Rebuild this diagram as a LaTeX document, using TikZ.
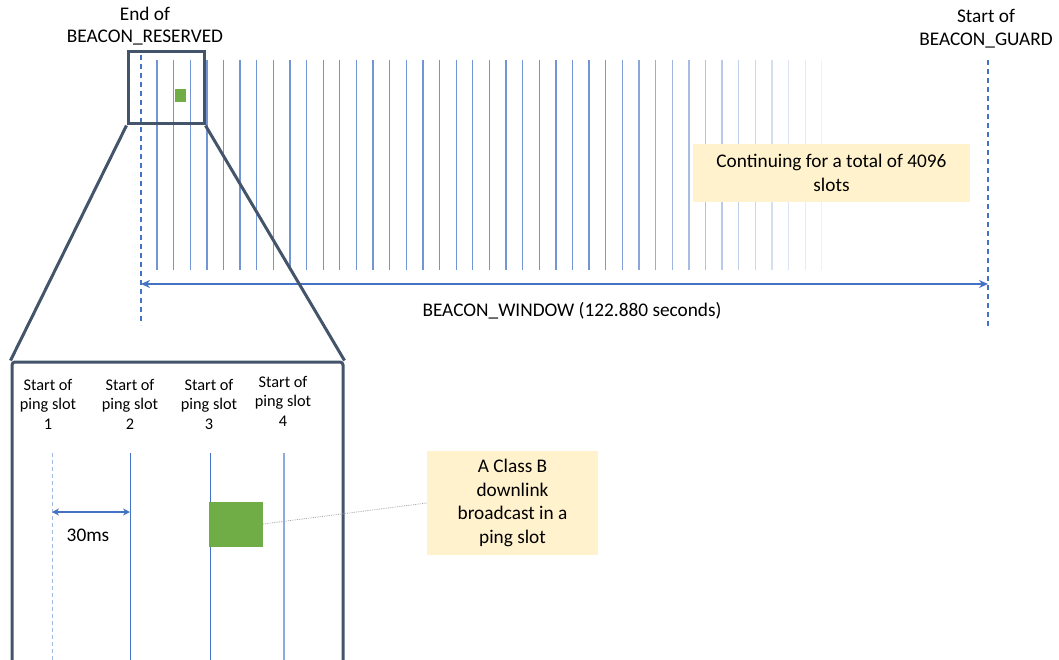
\documentclass[tikz,border=0pt]{standalone}
\usepackage{fontspec}
\setmainfont{Carlito}
\usepackage{tikz}
\usetikzlibrary{arrows.meta,positioning}
\definecolor{slotblue}{HTML}{4472C4}
\definecolor{frame}{HTML}{44546A}
\definecolor{pktgreen}{HTML}{70AD47}
\definecolor{noteyellow}{HTML}{FFF2CC}

\begin{document}
\begin{tikzpicture}[x=1pt, y=-1pt,
    txt/.style={align=center, inner sep=0pt, font=\fontsize{19.3}{22.5}\selectfont},
    pingtxt/.style={align=center, inner sep=0pt, font=\fontsize{16.3}{19.5}\selectfont},
    note/.style={fill=noteyellow, align=center, inner sep=0pt, font=\fontsize{19.3}{23.5}\selectfont},
    boundary/.style={slotblue, line width=2pt, dash pattern=on 5pt off 4pt},
    slot/.style={slotblue, line width=1.3pt},
    span/.style={slotblue, line width=2pt, {Stealth[length=9pt,width=8pt]}-{Stealth[length=9pt,width=8pt]}},
    framebox/.style={draw=frame, line width=3pt, inner sep=0pt},
    pkt/.style={fill=pktgreen, inner sep=0pt}]
        \useasboundingbox (0,0) rectangle (1059,660);
        \clip (0,0) rectangle (1059,660);

        \coordinate (resTop) at (141,55);
        \coordinate (resBot) at (141,325);
        \coordinate (grdTop) at (988,60);
        \coordinate (grdBot) at (988,328);
        \coordinate (winL) at (141,284);
        \coordinate (winR) at (988,284);

        \node[txt] (endRes) at (145,26) {End of\\BEACON\_RESERVED};
        \node[txt] (startGrd) at (986,28.5) {Start of\\BEACON\_GUARD};

        \foreach \i in {0,...,40} {
            \pgfmathsetmacro\xs{157+16.62*\i}
            \pgfmathsetmacro\op{\xs<595 ? 0.75 : 0.75-(\xs-595)/(822-595)*0.66}
            \draw[slot, draw opacity=\op] (\xs,60) -- (\xs,270);
        }

        \draw[boundary] (resTop) -- (resBot);
        \draw[boundary] (grdTop) -- (grdBot);
        \draw[span] (winL) -- (winR);
        \node[txt] (winLabel) at (572,311) {BEACON\_WINDOW (122.880 seconds)};

        \node[note, minimum width=277, minimum height=58] (total) at (831.5,173) {Continuing for a total of 4096\\slots};

        \node[pkt, minimum width=11, minimum height=13] (tinyPkt) at (180,96) {};
        \node[framebox, minimum width=76, minimum height=72] (zoom) at (166,88) {};
        \node[framebox, rounded corners=3pt, minimum width=331, minimum height=330] (detail) at (177.5,527) {};
        \draw[frame, line width=3pt] (zoom.south west) -- (detail.north west);
        \draw[frame, line width=3pt] (zoom.south east) -- (detail.north east);

        \node[pingtxt] (ping1) at (48,404) {Start of\\ping slot\\1};
        \node[pingtxt] (ping2) at (130,404) {Start of\\ping slot\\2};
        \node[pingtxt] (ping3) at (209,404) {Start of\\ping slot\\3};
        \node[pingtxt] (ping4) at (283,401) {Start of\\ping slot\\4};

        \draw[slotblue!50, line width=1pt, dash pattern=on 4pt off 3pt] (52,453) -- (52,660);
        \draw[slotblue, line width=1pt] (130,453) -- (130,660);
        \draw[slotblue, line width=1pt] (210,453) -- (210,660);
        \draw[slotblue!60, line width=1.2pt] (284,453) -- (284,660);

        \coordinate (msL) at (52,512);
        \coordinate (msR) at (130,512);
        \draw[slotblue, line width=1.5pt, {Stealth[length=7pt,width=7pt]}-{Stealth[length=7pt,width=7pt]}] (msL) -- (msR);
        \node[txt] (ms) at (88,535) {30ms};

        \node[pkt, minimum width=54, minimum height=45] (bigPkt) at (236,524) {};
        \node[note, minimum width=171, minimum height=104] (bcast) at (512.5,503) {A Class B\\downlink\\broadcast in a\\ping slot};
        \draw[gray!70, densely dotted, line width=0.8pt] (bigPkt.east) -- (bcast.west);
    \end{tikzpicture}
\end{document}
